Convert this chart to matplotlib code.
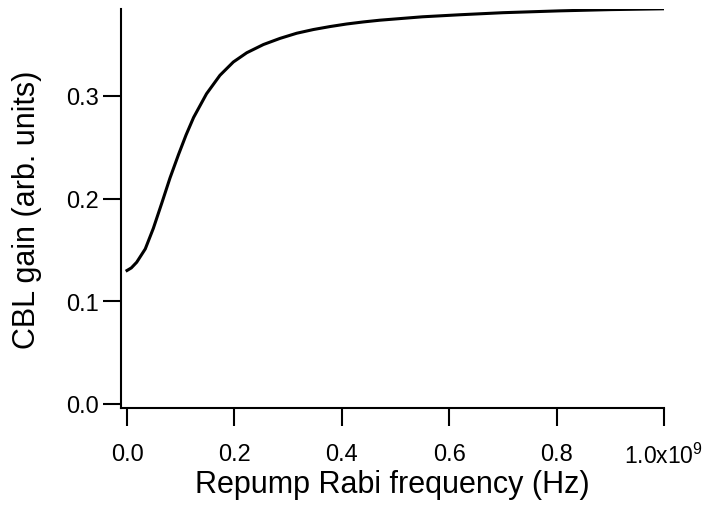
import matplotlib
matplotlib.use("Agg")
import matplotlib.pyplot as plt

plt.rcParams['font.family'] = ['Liberation Sans', 'DejaVu Sans']
plt.rcParams['mathtext.fontset'] = 'custom'
plt.rcParams['mathtext.rm'] = 'Liberation Sans'
plt.rcParams['mathtext.it'] = 'Liberation Sans'

# Repump Rabi frequency in units of 1e9 Hz
rabi = [0.0, 0.008, 0.018, 0.034, 0.049, 0.065, 0.080, 0.096, 0.110, 0.124,
        0.148, 0.173, 0.198, 0.223, 0.254, 0.285, 0.316, 0.347, 0.378, 0.409,
        0.440, 0.471, 0.55, 0.62, 0.7, 0.806, 0.9, 1.0]
gain = [0.1300, 0.1325, 0.138, 0.151, 0.171, 0.196, 0.220, 0.243, 0.262, 0.279,
        0.302, 0.320, 0.333, 0.342, 0.350, 0.356, 0.361, 0.3646, 0.3675, 0.370,
        0.372, 0.3737, 0.377, 0.379, 0.381, 0.3828, 0.384, 0.3848]

xticks = [0.0, 0.2, 0.4, 0.6, 0.8, 1.0]
xticklabels = ["0.0", "0.2", "0.4", "0.6", "0.8", r"1.0x10$^{9}$"]
yticks = [0.0, 0.1, 0.2, 0.3]
yticklabels = ["0.0", "0.1", "0.2", "0.3"]

fig = plt.figure(figsize=(7.07, 5.06), dpi=100)
ax = fig.add_axes([121 / 707, 97 / 506, 543 / 707, 399 / 506])

ax.plot(rabi, gain, color='black', lw=2.2, solid_joinstyle='round')

ax.set_xlim(-0.0112, 1.0)
ax.set_ylim(-0.0039, 0.3846)

for side in ['top', 'right']:
    ax.spines[side].set_visible(False)
for side in ['left', 'bottom']:
    ax.spines[side].set_linewidth(1.5)

ax.set_xticks(xticks)
ax.set_xticklabels(xticklabels)
ax.set_yticks(yticks)
ax.set_yticklabels(yticklabels)
ax.tick_params(direction='out', length=13, width=1.5, labelsize=17, colors='black')
ax.tick_params(axis='x', pad=12)
ax.tick_params(axis='y', pad=3)
last = ax.get_xticklabels()[-1]
last.set_verticalalignment('top')
last.set_fontsize(16.5)

ax.set_xlabel("Repump Rabi frequency (Hz)", fontsize=22, labelpad=1)
ax.set_ylabel("CBL gain (arb. units)", fontsize=22, labelpad=17)

plt.savefig("out.png", dpi=100)
